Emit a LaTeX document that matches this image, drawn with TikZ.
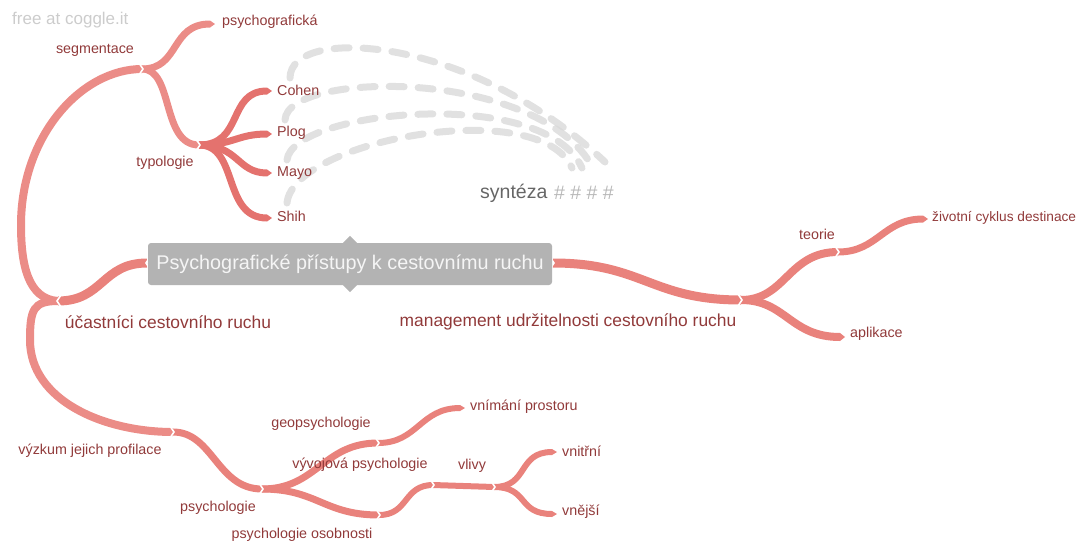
\documentclass[tikz,border=0pt]{standalone}
\usepackage{fontspec}
\setmainfont{Liberation Sans}
\definecolor{br}{RGB}{233,130,124}
\definecolor{brd}{RGB}{228,114,110}
\definecolor{brl}{RGB}{235,140,135}
\definecolor{lbl}{RGB}{145,58,58}
\definecolor{cbox}{RGB}{179,179,179}
\definecolor{dsh}{RGB}{215,215,215}
\newcommand\mychevR[1]{\draw[chev] (#1) ++(-3,-6) -- ++(4,6) -- ++(-4,6);}
\newcommand\mychevL[1]{\draw[chev] (#1) ++(3,-6) -- ++(-4,6) -- ++(4,6);}
\newcommand\mytip[3]{\fill[#3] (#1) ++(0,-#2) -- ++(5,#2) -- ++(-5,#2) -- cycle;}
\begin{document}
\begin{tikzpicture}[x=1pt,y=-1pt,
  brn/.style={draw=br,line width=#1,line cap=butt},
  brn/.default=7,
  chev/.style={draw=white,line width=1.6,line join=miter},
  lab/.style={text=lbl,font=\fontsize{14.3}{16}\selectfont,inner sep=0pt},
  biglab/.style={text=lbl,font=\fontsize{17.4}{20}\selectfont,inner sep=0pt},
  xlink/.style={draw=dsh,line width=7,dash pattern=on 15 off 14,line cap=round,opacity=0.75}]
\useasboundingbox (0,0) rectangle (1081,544);
% watermark
\node[text=black!20,font=\fontsize{17}{19}\selectfont,anchor=west,inner sep=0pt] (wm) at (12,20) {free at coggle.it};
% coordinates
\coordinate (cl) at (147,263);
\coordinate (cr) at (553,263);
\coordinate (juc) at (58,301);
\coordinate (jseg) at (142,69);
\coordinate (jvyz) at (173,432);
\coordinate (jpsy) at (262,489);
\coordinate (jgeo) at (378,443);
\coordinate (joso) at (379,515);
\coordinate (jvl1) at (433,485);
\coordinate (jvl) at (494,487);
\coordinate (evnim) at (460,408);
\coordinate (evnitr) at (552,452);
\coordinate (evnej) at (552,514);
\coordinate (jman) at (741,300);
\coordinate (jteo) at (838,252);
\coordinate (eapl) at (840,337);
\coordinate (eziv) at (923,219);
\coordinate (epsg) at (210,24);
\coordinate (jtyp) at (199,145);
\coordinate (ecoh) at (267,91);
\coordinate (eplo) at (267,134);
\coordinate (emay) at (267,173);
\coordinate (eshi) at (267,218);
% cross links (dashed)
\draw[xlink] (290,78) .. controls (290,25) and (470,35) .. (605,162);
\draw[xlink] (285,120) .. controls (287,70) and (540,68) .. (593,168);
\draw[xlink] (287,160) .. controls (292,110) and (545,85) .. (582,168);
\draw[xlink] (287,203) .. controls (293,140) and (540,95) .. (572,168);
% branches
\draw[brn=9] (cl) .. controls +(-45,0) and +(45,0) .. (juc);
\draw[brn=8,draw=brl] (juc) .. controls +(-30,-2) and +(0,40) .. (21,225) .. controls +(0,-90) and +(-60,0) .. (jseg);
\draw[brn=8,draw=brl] (juc) .. controls +(-25,0) and +(0,-30) .. (30,340) .. controls +(0,60) and +(-70,0) .. (jvyz);
\draw[brn=7] (jvyz) .. controls +(40,0) and +(-45,0) .. (jpsy);
\draw[brn=7] (jpsy) .. controls +(55,0) and +(-55,0) .. (jgeo);
\draw[brn=7] (jpsy) .. controls +(55,0) and +(-55,0) .. (joso);
\draw[brn=6] (jgeo) .. controls +(40,0) and +(-40,0) .. (evnim);
\draw[brn=6] (joso) .. controls +(30,0) and +(-30,0) .. (jvl1);
\draw[brn=6] (jvl1) -- (jvl);
\draw[brn=6] (jvl) .. controls +(35,0) and +(-35,0) .. (evnitr);
\draw[brn=6] (jvl) .. controls +(35,0) and +(-35,0) .. (evnej);
\draw[brn=9] (cr) .. controls +(90,0) and +(-90,0) .. (jman);
\draw[brn=8] (jman) .. controls +(45,0) and +(-50,0) .. (jteo);
\draw[brn=8] (jman) .. controls +(45,0) and +(-50,0) .. (eapl);
\draw[brn=7] (jteo) .. controls +(40,0) and +(-40,0) .. (eziv);
\draw[brn=7,draw=brl] (jseg) .. controls +(38,0) and +(-40,0) .. (epsg);
\draw[brn=7,draw=brl] (jseg) .. controls +(32,0) and +(-38,0) .. (jtyp);
\draw[brn=7,draw=brd] (jtyp) .. controls +(45,0) and +(-40,0) .. (ecoh);
\draw[brn=7,draw=brd] (jtyp) .. controls +(35,0) and +(-30,0) .. (eplo);
\draw[brn=7,draw=brd] (jtyp) .. controls +(40,0) and +(-30,0) .. (emay);
\draw[brn=7,draw=brd] (jtyp) .. controls +(40,0) and +(-45,0) .. (eshi);
% leaf tips
\mytip{epsg}{3.5}{brl}
\mytip{ecoh}{3.5}{brd}
\mytip{eplo}{3.5}{brd}
\mytip{emay}{3.5}{brd}
\mytip{eshi}{3.5}{brd}
\mytip{evnim}{3}{br}
\mytip{evnitr}{3}{br}
\mytip{evnej}{3}{br}
\mytip{eapl}{4}{br}
\mytip{eziv}{3.5}{br}
% chevrons
\mychevL{cl}
\mychevL{juc}
\mychevR{cr}
\mychevR{jseg}
\mychevR{jtyp}
\mychevR{jvyz}
\mychevR{jpsy}
\mychevR{jgeo}
\mychevR{joso}
\mychevR{jvl1}
\mychevR{jvl}
\mychevR{jman}
\mychevR{jteo}
% central node
\node[fill=cbox,rounded corners=3,minimum width=404,minimum height=42,inner sep=0pt,
  text=white!96!black,font=\fontsize{19.8}{22}\selectfont] (center) at (350,264)
  {Psychografické přístupy k cestovnímu ruchu};
\fill[cbox] (center.north) ++(-7,0) -- ++(7,-7) -- ++(7,7) -- cycle;
\fill[cbox] (center.south) ++(-7,0) -- ++(7,7) -- ++(7,-7) -- cycle;
% labels
\node[lab,anchor=west] (psg) at (222,22) {psychografická};
\node[lab] (seg) at (95,50) {segmentace};
\node[lab] (typ) at (165,163) {typologie};
\node[lab,anchor=west] (coh) at (277,90) {Cohen};
\node[lab,anchor=west] (plo) at (277,133) {Plog};
\node[lab,anchor=west] (may) at (277,173) {Mayo};
\node[lab,anchor=west] (shi) at (277,216) {Shih};
\node[biglab] (uc) at (168,322) {účastníci cestovního ruchu};
\node[biglab] (man) at (568,322) {management udržitelnosti cestovního ruchu};
\node[lab] (teo) at (817,234) {teorie};
\node[lab,anchor=west,font=\fontsize{13.7}{16}\selectfont] (ziv) at (932,218) {životní cyklus destinace};
\node[lab,anchor=west] (apl) at (850,334) {aplikace};
\node[lab] (vyz) at (90,451) {výzkum jejich profilace};
\node[lab] (psy) at (218,508) {psychologie};
\node[lab] (geo) at (321,424) {geopsychologie};
\node[lab] (vyv) at (360,465) {vývojová psychologie};
\node[lab] (oso) at (302,535) {psychologie osobnosti};
\node[lab,anchor=west] (vnim) at (470,407) {vnímání prostoru};
\node[lab] (vliv) at (472,466) {vlivy};
\node[lab,anchor=west] (vnitr) at (562,451) {vnitřní};
\node[lab,anchor=west] (vnej) at (562,512) {vnější};
\node[anchor=west,inner sep=0pt,font=\fontsize{19.5}{22}\selectfont,text=black!60] (synt) at (480,193) {syntéza};
\node[anchor=west,inner sep=0pt,font=\fontsize{19.5}{22}\selectfont,text=black!28] (hash) at (554,193) {\# \# \# \#};
\end{tikzpicture}
\end{document}
